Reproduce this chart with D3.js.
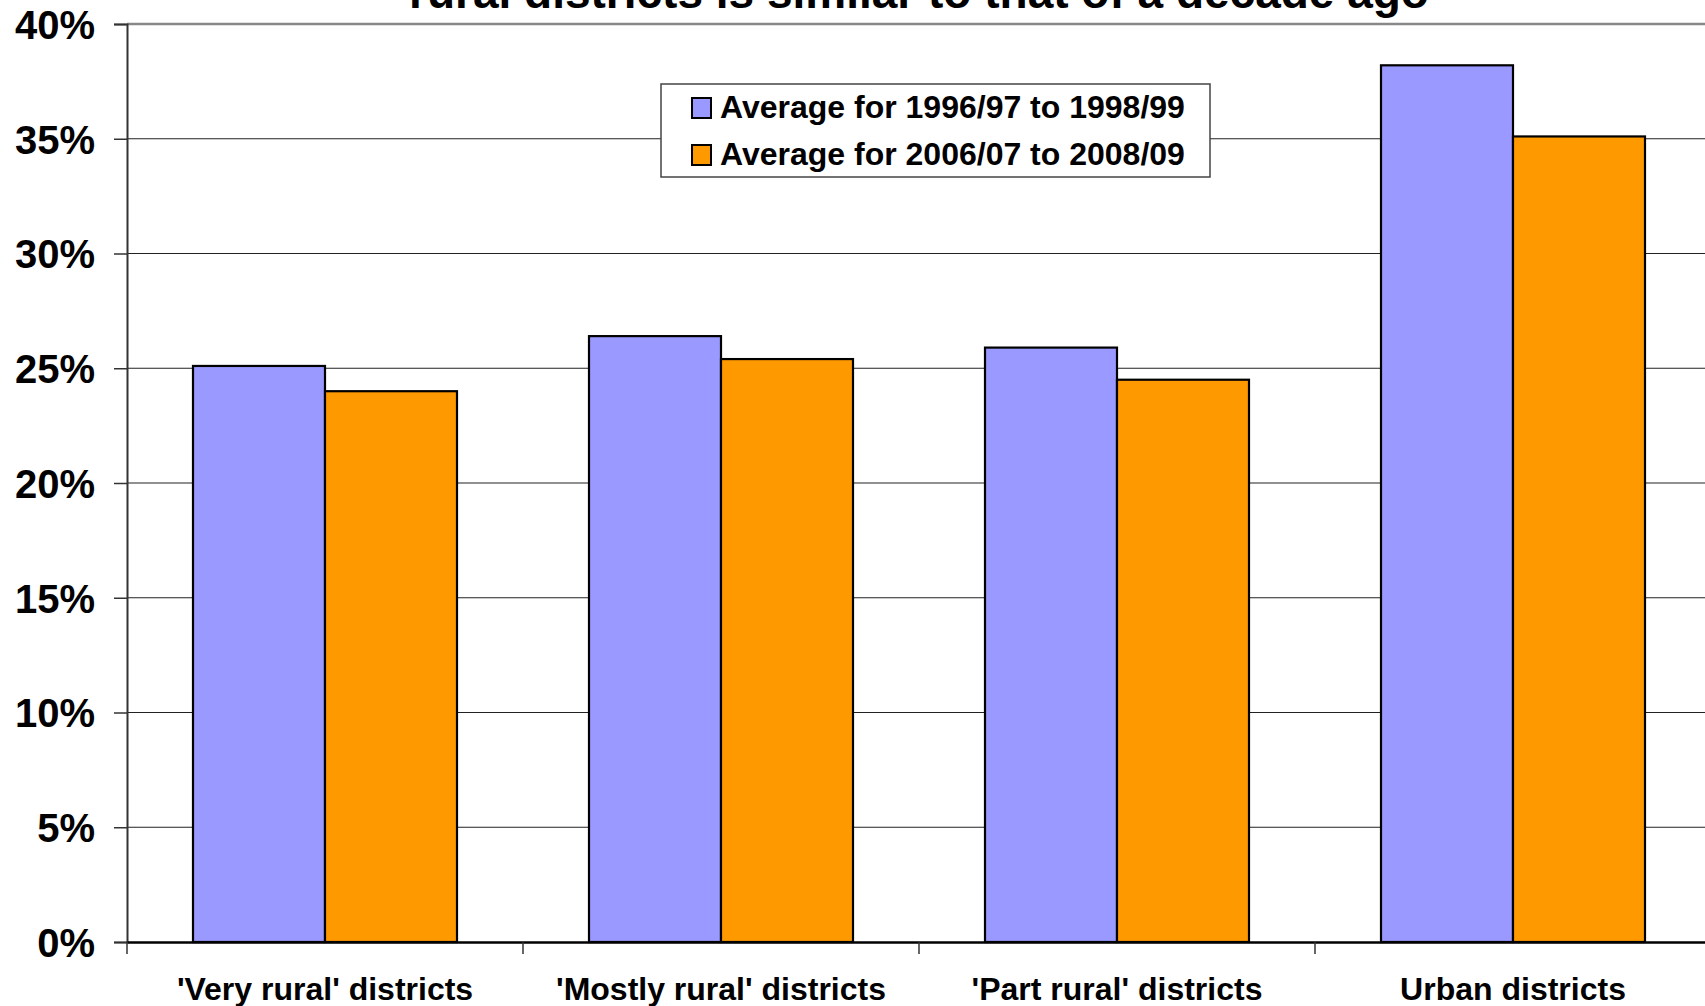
<!DOCTYPE html>
<html>
<head>
<meta charset="utf-8">
<script src="https://cdn.jsdelivr.net/npm/d3@7"></script>
<style>
  body { margin: 0; background: #fff; }
  svg { display: block; font-family: "Liberation Sans", Arial, sans-serif; }
</style>
</head>
<body>
<svg id="chart"></svg>
<script>
const categories = ["'Very rural' districts", "'Mostly rural' districts", "'Part rural' districts", "Urban districts"];
const seriesNames = ["Average for 1996/97 to 1998/99", "Average for 2006/07 to 2008/09"];
const series1996 = [25.1, 26.4, 25.9, 38.2];
const series2006 = [24.0, 25.4, 24.5, 35.1];
const yTicks = [0, 5, 10, 15, 20, 25, 30, 35, 40];
const titleLine = "rural districts is similar to that of a decade ago";

const width = 1705;
const height = 1006;
const colors = ["#9999FF", "#FF9900"];

const svg = d3.select("#chart")
  .attr("width", width)
  .attr("height", height);

const plotLeft = 127;
const plotTop = 24;
const plotBottom = 942;
const bandW = 396;

const x = d3.scaleBand()
  .domain(categories)
  .range([plotLeft, plotLeft + bandW * categories.length])
  .paddingInner(0)
  .paddingOuter(0);

const xInner = d3.scaleBand()
  .domain(seriesNames)
  .range([0, x.bandwidth()])
  .paddingInner(0)
  .paddingOuter(0.5);

const y = d3.scaleLinear()
  .domain([0, 40])
  .range([plotBottom, plotTop]);

const rows = categories.map((c, i) => ({
  cat: c,
  values: [series1996[i], series2006[i]]
}));

// gridlines
svg.append("g")
  .selectAll("line")
  .data(yTicks.filter(t => t > 0 && t < 40))
  .enter()
  .append("line")
  .attr("x1", plotLeft)
  .attr("x2", width)
  .attr("y1", d => y(d))
  .attr("y2", d => y(d))
  .attr("stroke", "#222")
  .attr("stroke-width", 1.2);

// top border of plot area
svg.append("line")
  .attr("x1", plotLeft)
  .attr("x2", width)
  .attr("y1", y(40))
  .attr("y2", y(40))
  .attr("stroke", "#888")
  .attr("stroke-width", 2.5);

// bars
const groups = svg.append("g")
  .selectAll("g")
  .data(rows)
  .enter()
  .append("g")
  .attr("transform", d => `translate(${x(d.cat)},0)`);

groups.selectAll("rect")
  .data(d => d.values.map((v, i) => ({ name: seriesNames[i], value: v, idx: i })))
  .enter()
  .append("rect")
  .attr("x", d => xInner(d.name))
  .attr("width", xInner.bandwidth())
  .attr("y", d => y(d.value))
  .attr("height", d => y(0) - y(d.value))
  .attr("fill", d => colors[d.idx])
  .attr("stroke", "#000")
  .attr("stroke-width", 2.2);

// y axis
const yAxis = d3.axisLeft(y)
  .tickValues(yTicks)
  .tickFormat(d => d + "%")
  .tickSize(13)
  .tickPadding(19);

const yg = svg.append("g")
  .attr("transform", `translate(${plotLeft},0)`)
  .call(yAxis);
yg.select(".domain").attr("stroke", "#333").attr("stroke-width", 2);
yg.selectAll(".tick line").attr("stroke", "#333").attr("stroke-width", 1.5);
yg.selectAll(".tick text")
  .attr("font-size", 40)
  .attr("font-weight", "bold")
  .attr("fill", "#000")
  .attr("dy", "0.36em")
  .attr("font-family", "Liberation Sans, Arial, sans-serif");

// x axis
const xAxis = d3.axisBottom(x)
  .tickSize(0)
  .tickPadding(0);

const xg = svg.append("g")
  .attr("transform", `translate(0,${plotBottom})`)
  .call(xAxis);
xg.select(".domain").attr("stroke", "#000").attr("stroke-width", 2.5);
xg.selectAll(".tick text")
  .attr("y", 58)
  .attr("dy", 0)
  .attr("font-size", 32)
  .attr("font-weight", "bold")
  .attr("fill", "#000")
  .attr("font-family", "Liberation Sans, Arial, sans-serif");

// category separator ticks
xg.append("g")
  .selectAll("line")
  .data(categories)
  .enter()
  .append("line")
  .attr("x1", d => x(d))
  .attr("x2", d => x(d))
  .attr("y1", 0)
  .attr("y2", 12)
  .attr("stroke", "#333")
  .attr("stroke-width", 1.5);

// title (only the bottom line shows in the frame)
svg.append("text")
  .attr("x", (plotLeft + plotLeft + bandW * categories.length) / 2)
  .attr("y", 8)
  .attr("text-anchor", "middle")
  .attr("font-size", 46)
  .attr("font-weight", "bold")
  .text(titleLine);

// legend
const legend = svg.append("g")
  .attr("transform", "translate(661,84)");

legend.append("rect")
  .attr("width", 549)
  .attr("height", 93)
  .attr("fill", "#fff")
  .attr("stroke", "#444")
  .attr("stroke-width", 1.5);

const items = legend.selectAll(".item")
  .data(seriesNames)
  .enter()
  .append("g")
  .attr("class", "item")
  .attr("transform", (d, i) => `translate(31, ${14 + i * 47})`);

items.append("rect")
  .attr("width", 19)
  .attr("height", 20)
  .attr("fill", (d, i) => colors[i])
  .attr("stroke", "#000")
  .attr("stroke-width", 2);

items.append("text")
  .attr("x", 28)
  .attr("y", 20)
  .attr("font-size", 32)
  .attr("font-weight", "bold")
  .text(d => d);
</script>
</body>
</html>
